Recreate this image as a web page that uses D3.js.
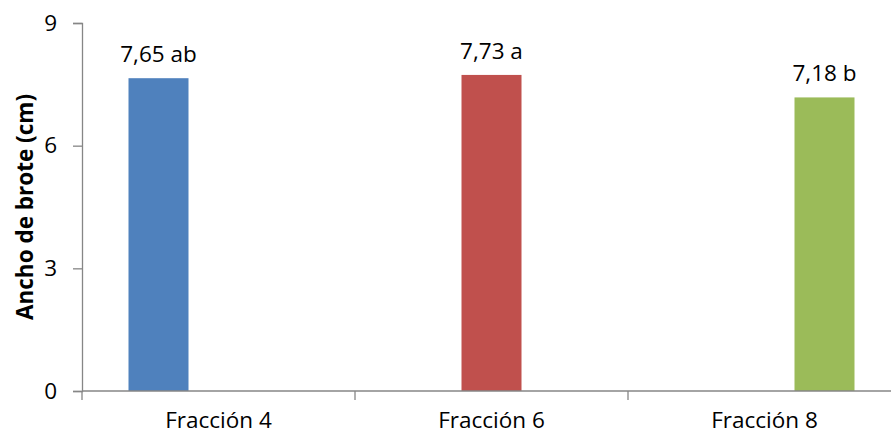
<!DOCTYPE html>
<html>
<head>
<meta charset="utf-8">
<script src="https://cdn.jsdelivr.net/npm/d3@7"></script>
<style>
  html, body { margin: 0; padding: 0; background: #fff; }
  svg { display: block; font-family: "Open Sans", "Noto Sans", sans-serif; }
</style>
</head>
<body>
<svg id="chart" width="891" height="435"></svg>
<script>
const categories = ["Fracción 4", "Fracción 6", "Fracción 8"];
const values = [7.65, 7.73, 7.18];
const labelTexts = ["7,65 ab", "7,73 a", "7,18 b"];
const colors = ["#4F81BD", "#C0504D", "#9BBB59"];
const yTicks = [0, 3, 6, 9];
const yTitle = "Ancho de brote (cm)";

const svg = d3.select("#chart");
const margin = { left: 82, top: 23, bottom: 391 };
const fs = 22.5;
const x0 = d3.scaleBand().domain(categories).range([margin.left, margin.left + 273 * 3]).paddingInner(0).paddingOuter(0);
const x1 = d3.scaleBand().domain(d3.range(categories.length)).range([0, x0.bandwidth()]).paddingInner(0).paddingOuter(0.775);
const y = d3.scaleLinear().domain([0, 9]).range([margin.bottom, margin.top]);

const axisColor = "#868686";

// y axis
const yAxis = svg.append("g").attr("transform", `translate(${margin.left},0)`)
  .call(d3.axisLeft(y).tickValues(yTicks).tickSize(9).tickPadding(16).tickFormat(d3.format("d")));
yAxis.select(".domain").attr("stroke", axisColor).attr("stroke-width", 1.3);
yAxis.selectAll(".tick line").attr("stroke", axisColor).attr("stroke-width", 1.3);
yAxis.selectAll(".tick text").attr("font-size", fs).attr("fill", "#000").attr("font-family", "Open Sans");

// bars
svg.append("g").selectAll("rect").data(values).join("rect")
  .attr("x", (d, i) => x0(categories[i]) + x1(i))
  .attr("width", x1.bandwidth())
  .attr("y", d => y(d))
  .attr("height", d => y(0) - y(d))
  .attr("fill", (d, i) => colors[i]);

// value labels
svg.append("g").selectAll("text").data(values).join("text")
  .attr("x", (d, i) => x0(categories[i]) + x1(i) + x1.bandwidth() / 2)
  .attr("y", d => y(d) - 16)
  .attr("text-anchor", "middle")
  .attr("font-size", fs)
  .attr("fill", "#000")
  .text((d, i) => labelTexts[i]);

// x axis
const xAxis = svg.append("g").attr("transform", `translate(0,${margin.bottom})`);
xAxis.append("line").attr("x1", margin.left).attr("x2", 891).attr("y1", 0).attr("y2", 0)
  .attr("stroke", axisColor).attr("stroke-width", 1.3);
const boundaries = categories.map(c => x0(c));
xAxis.selectAll("line.tk").data(boundaries).join("line").attr("class", "tk")
  .attr("x1", d => d).attr("x2", d => d).attr("y1", 0).attr("y2", 9)
  .attr("stroke", axisColor).attr("stroke-width", 1.3);
xAxis.selectAll("text").data(categories).join("text")
  .attr("x", d => x0(d) + x0.bandwidth() / 2)
  .attr("y", 37)
  .attr("text-anchor", "middle")
  .attr("font-size", fs)
  .attr("fill", "#000")
  .text(d => d);

// y title
svg.append("text")
  .attr("transform", `translate(33,${(margin.top + margin.bottom) / 2}) rotate(-90)`)
  .attr("text-anchor", "middle")
  .attr("font-size", fs)
  .attr("font-weight", "bold")
  .attr("fill", "#000")
  .text(yTitle);
</script>
</body>
</html>
